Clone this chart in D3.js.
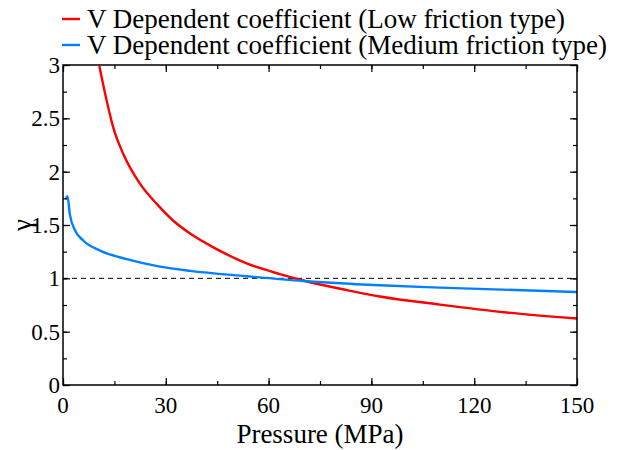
<!DOCTYPE html>
<html>
<head>
<meta charset="utf-8">
<script src="https://cdn.jsdelivr.net/npm/d3@7"></script>
<style>
  body { margin: 0; background: #fff; }
</style>
</head>
<body>
<svg id="chart" width="619" height="450"></svg>
<script>
// values
const lowPressure = [10.6, 12.3, 14.7, 17.6, 22.5, 27.3, 32.2, 37.1, 43.9, 53.6, 63.3, 70.1, 82.8, 92.5, 110, 129.5, 150];
const lowGamma    = [2.99, 2.73, 2.41, 2.165, 1.885, 1.70, 1.54, 1.42, 1.29, 1.14, 1.04, 0.98, 0.89, 0.83, 0.754, 0.68, 0.623];

const medPressure = [0.8, 1.3, 2.0, 3.5, 5.9, 10.8, 18.6, 28.3, 37.1, 53.6, 70.1, 92.5, 110, 150];
const medGamma    = [1.74, 1.77, 1.60, 1.45, 1.355, 1.26, 1.18, 1.11, 1.07, 1.02, 0.975, 0.935, 0.913, 0.872];

const xTicks = [0, 30, 60, 90, 120, 150];
const yTicks = [0, 0.5, 1, 1.5, 2, 2.5, 3];
const legendLabels = ["V Dependent coefficient (Low friction type)", "V Dependent coefficient (Medium friction type)"];
const colors = ["#ff0000", "#0080ff"];

const FONT = "'Liberation Serif', 'Times New Roman', Times, serif";
const margin = {left: 63, right: 42, top: 65, bottom: 65};
const W = 619, H = 450;

const svg = d3.select("#chart");

const x = d3.scaleLinear().domain([0, 150]).range([margin.left, W - margin.right]);
const y = d3.scaleLinear().domain([0, 3]).range([H - margin.bottom, margin.top]);

const plot = svg.append("g");

// clip so the red line stops at the top frame
svg.append("clipPath").attr("id", "clip")
  .append("rect")
  .attr("x", x(0)).attr("y", y(3))
  .attr("width", x(150) - x(0)).attr("height", y(0) - y(3));

// reference line at 1
plot.append("line")
  .attr("x1", x(0)).attr("x2", x(150))
  .attr("y1", y(1)).attr("y2", y(1))
  .attr("stroke", "#000").attr("stroke-width", 1)
  .attr("stroke-dasharray", "5,4");

const line = d3.line()
  .x(d => x(d[0]))
  .y(d => y(d[1]))
  .curve(d3.curveMonotoneX);

const series = [
  d3.zip(lowPressure, lowGamma),
  d3.zip(medPressure, medGamma)
];

series.forEach((s, i) => {
  plot.append("path")
    .datum(s)
    .attr("clip-path", "url(#clip)")
    .attr("fill", "none")
    .attr("stroke", colors[i])
    .attr("stroke-width", 2.4)
    .attr("d", line);
});

// axes, ticks pointing inward, mirrored on all four sides
const xMinor = d3.range(0, 151, 15);
const yMinor = d3.range(0, 3.01, 0.25);

const axisGroups = [
  [`translate(0,${y(0)})`, d3.axisTop(x), xMinor, 4],
  [`translate(0,${y(0)})`, d3.axisTop(x), xTicks, 7],
  [`translate(0,${y(3)})`, d3.axisBottom(x), xMinor, 4],
  [`translate(0,${y(3)})`, d3.axisBottom(x), xTicks, 7],
  [`translate(${x(0)},0)`, d3.axisRight(y), yMinor, 4],
  [`translate(${x(0)},0)`, d3.axisRight(y), yTicks, 7],
  [`translate(${x(150)},0)`, d3.axisLeft(y), yMinor, 4],
  [`translate(${x(150)},0)`, d3.axisLeft(y), yTicks, 7]
];

axisGroups.forEach(([tr, ax, vals, size]) => {
  const g = svg.append("g").attr("transform", tr)
    .call(ax.tickValues(vals).tickSize(size).tickFormat(""));
  g.select(".domain").remove();
  g.selectAll("line").attr("stroke", "#000").attr("stroke-width", 1.2);
});

svg.append("rect")
  .attr("x", x(0)).attr("y", y(3))
  .attr("width", x(150) - x(0)).attr("height", y(0) - y(3))
  .attr("fill", "none").attr("stroke", "#000").attr("stroke-width", 1.5);

// every text gets the serif face inline
function label(sel, size) {
  return sel.style("font-family", FONT, "important")
    .style("font-size", size + "px", "important")
    .style("fill", "#000");
}

// tick labels
svg.append("g").selectAll("text")
  .data(xTicks).join("text")
  .attr("x", d => x(d)).attr("y", y(0) + 28)
  .attr("text-anchor", "middle")
  .call(label, 23)
  .text(d => d);

svg.append("g").selectAll("text")
  .data(yTicks).join("text")
  .attr("x", x(0) - 3).attr("y", d => y(d) + 8)
  .attr("text-anchor", "end")
  .call(label, 23)
  .text(d => d);

// axis titles
svg.append("text")
  .attr("x", x(75)).attr("y", 443)
  .attr("text-anchor", "middle")
  .call(label, 27)
  .text("Pressure (MPa)");

svg.append("text")
  .attr("transform", `translate(31,${y(1.5)}) rotate(-90)`)
  .attr("text-anchor", "middle")
  .call(label, 27)
  .text("γ");

// legend
const legend = svg.append("g");
legendLabels.forEach((lab, i) => {
  const ly = 19 + i * 26;
  legend.append("line")
    .attr("x1", 62).attr("x2", 80)
    .attr("y1", ly).attr("y2", ly)
    .attr("stroke", colors[i]).attr("stroke-width", 2.4);
  legend.append("text")
    .attr("x", 87).attr("y", ly + 9)
    .call(label, 27)
    .text(lab);
});
</script>
</body>
</html>
